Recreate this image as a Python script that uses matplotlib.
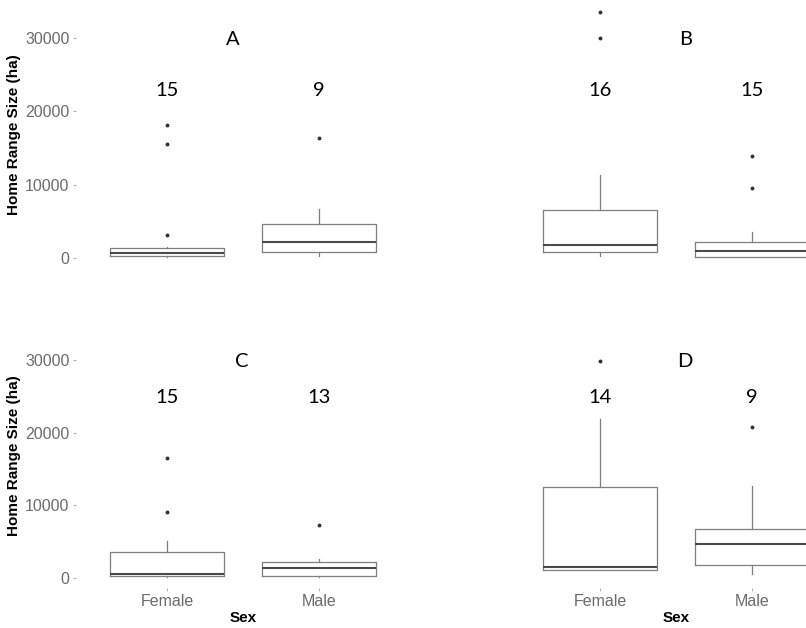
import matplotlib
matplotlib.use("Agg")
from matplotlib import pyplot as plt

# cajas por panel: [Female, Male]
panels = ["A", "B", "C", "D"]
sexos = ["Female", "Male"]

medianas = [[640, 2140], [1820, 960], [500, 1410], [1550, 4620]]
q1 = [[310, 860], [860, 140], [270, 270], [1040, 1830]]
q3 = [[1320, 4660], [6520, 2230], [3520, 2200], [12580, 6810]]
bigote_bajo = [[180, 220], [310, 140], [140, 140], [1040, 550]]
bigote_alto = [[1540, 6710], [11300, 3600], [5080, 2610], [21900, 12680]]
atipicos = [
    [[18100, 15600, 3100], [16300]],
    [[33500, 30000], [13900, 9590]],
    [[16570, 9070], [7320]],
    [[29900], [20780]],
]
conteos = [[15, 9], [16, 15], [15, 13], [14, 9]]
altura_conteo = [22800, 22800, 24900, 24900]
altura_letra = 29800
x_letra = [1.43, 1.56, 1.49, 1.56]
yticks = [0, 10000, 20000, 30000]

fig = plt.figure(figsize=(8.06, 6.28), dpi=100)

# posiciones de los ejes (fracciones de la figura)
posiciones = [
    [0.0940, 0.5728, 0.4149, 0.4252],
    [0.6313, 0.5728, 0.4149, 0.4252],
    [0.0940, 0.0634, 0.4149, 0.4213],
    [0.6313, 0.0634, 0.4149, 0.4213],
]

gris = "#7f7f7f"
fuente_num = "Lato"

for i in range(4):
    ax = fig.add_axes(posiciones[i])
    stats = []
    for j in range(2):
        stats.append({
            "med": medianas[i][j],
            "q1": q1[i][j],
            "q3": q3[i][j],
            "whislo": bigote_bajo[i][j],
            "whishi": bigote_alto[i][j],
            "fliers": atipicos[i][j],
            "label": sexos[j],
        })
    ax.bxp(stats, positions=[1, 2], widths=0.75, showcaps=False,
           boxprops=dict(color=gris, linewidth=0.9),
           whiskerprops=dict(color=gris, linewidth=0.9),
           medianprops=dict(color="#4a4a4a", linewidth=1.5),
           flierprops=dict(marker="o", markersize=1.8, markerfacecolor="#333333",
                           markeredgecolor="#333333", linestyle="none"))
    ax.set_xlim(0.4, 2.6)
    ax.set_ylim(-1400, 35000)
    for s in ax.spines.values():
        s.set_visible(False)

    for j in range(2):
        ax.text(j + 1, altura_conteo[i], str(conteos[i][j]), ha="center", va="center",
                fontsize=14.5, family=fuente_num, color="black")
    ax.text(x_letra[i], altura_letra, panels[i], ha="center", va="center",
            fontsize=14.5, family=fuente_num, color="black")

    ax.tick_params(axis="both", length=2.5, width=0.6, color="#a0a0a0",
                   labelcolor="#6b6b6b", labelsize=11.5, pad=2)

    if i in (0, 2):
        ax.set_yticks(yticks)
        ax.set_yticklabels([str(v) for v in yticks], family="Liberation Sans")
        ax.set_ylabel("Home Range Size (ha)", fontsize=11, fontweight="bold",
                      family="Liberation Sans", labelpad=3)
    else:
        ax.set_yticks([])

    if i in (2, 3):
        ax.set_xticks([1, 2])
        ax.set_xticklabels(sexos, family="Liberation Sans")
        ax.set_xlabel("Sex", fontsize=11, fontweight="bold", family="Liberation Sans",
                      labelpad=1)
    else:
        ax.set_xticks([])

fig.savefig("out.png", dpi=100)
